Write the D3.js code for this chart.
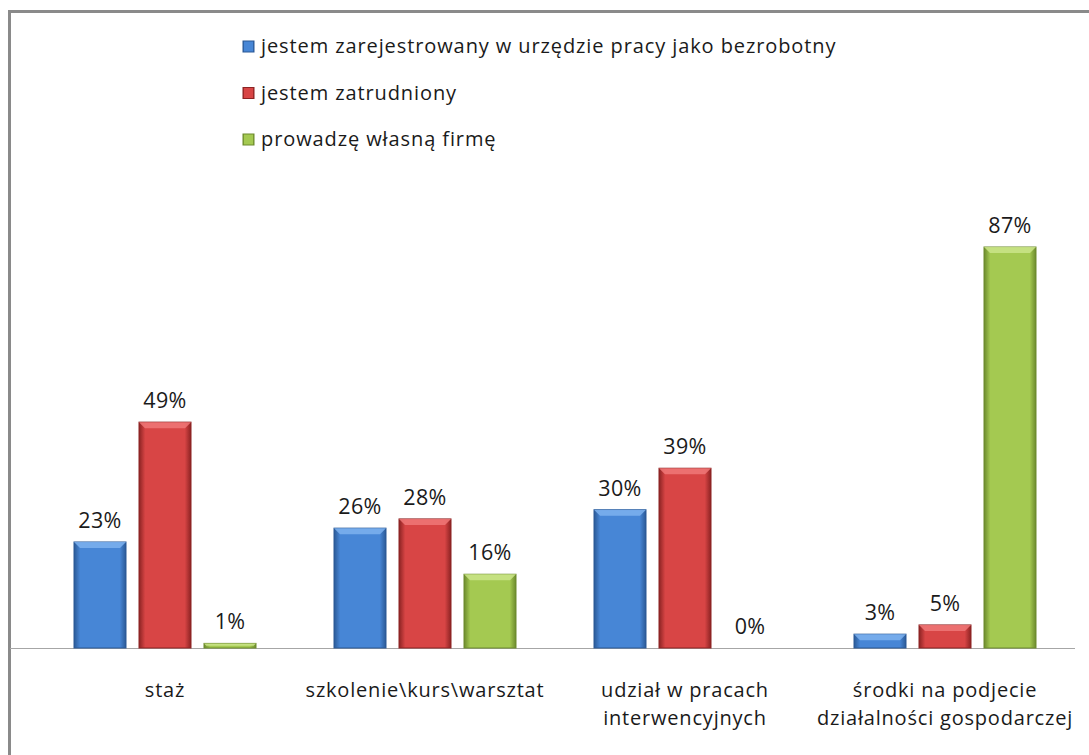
<!DOCTYPE html>
<html>
<head>
<meta charset="utf-8">
<title>Formy wsparcia</title>
<script src="https://cdn.jsdelivr.net/npm/d3@7/dist/d3.min.js"></script>
<style>
body { margin: 0; background: #fff; }
svg text { font-family: "Open Sans", sans-serif; fill: #1a1a1a; }
.val { font-size: 21.5px; letter-spacing: 0.3px; }
.cat { font-size: 20px; letter-spacing: 0.8px; }
.leg { font-size: 20px; letter-spacing: 0.9px; }
</style>
</head>
<body>
<script>

var categories = [["staż"], ["szkolenie\\kurs\\warsztat"], ["udział w pracach", "interwencyjnych"], ["środki na podjecie", "działalności gospodarczej"]];
var seriesNames = ["jestem zarejestrowany w urzędzie pracy jako bezrobotny", "jestem zatrudniony", "prowadzę własną firmę"];
var bezrobotny = [23, 26, 30, 3];
var zatrudniony = [49, 28, 39, 5];
var firma = [1, 16, 0, 87];

var colors = [
  {mid: "#4786d6", edge: "#2a5996", top: "#7eb2ef"},
  {mid: "#d84545", edge: "#8c2323", top: "#f07878"},
  {mid: "#a4c951", edge: "#6c8a2d", top: "#cbe58a"}
];

var W = 1089, H = 755;
var base = 648;

var svg = d3.select("body").append("svg")
  .attr("width", W)
  .attr("height", H);

var defs = svg.append("defs");
colors.forEach(function(c, i) {
  var g = defs.append("linearGradient").attr("id", "grad" + i)
    .attr("x1", 0).attr("x2", 1).attr("y1", 0).attr("y2", 0);
  g.append("stop").attr("offset", "0%").attr("stop-color", c.edge);
  g.append("stop").attr("offset", "12%").attr("stop-color", c.mid);
  g.append("stop").attr("offset", "88%").attr("stop-color", c.mid);
  g.append("stop").attr("offset", "100%").attr("stop-color", c.edge);
});

// frame
svg.append("rect")
  .attr("x", 9.5).attr("y", 11.5)
  .attr("width", 1090).attr("height", 760)
  .attr("fill", "#fff")
  .attr("stroke", "#8a8a8a")
  .attr("stroke-width", 3);

var x0 = d3.scaleBand()
  .domain(d3.range(categories.length))
  .range([35, 1075])
  .paddingInner(0)
  .paddingOuter(0);

var x1 = d3.scaleBand()
  .domain([0, 1, 2])
  .range([39, 221])
  .paddingInner(0.2);

var y = d3.scaleLinear()
  .domain([0, 87])
  .range([base, 247]);

var series = [bezrobotny, zatrudniony, firma];

// axis line
svg.append("line")
  .attr("x1", 10).attr("x2", 1075)
  .attr("y1", base + 0.5).attr("y2", base + 0.5)
  .attr("stroke", "#a6a6a6")
  .attr("stroke-width", 1);

series.forEach(function(vals, s) {
  var g = svg.append("g");
  vals.forEach(function(v, i) {
    var bx = x0(i) + x1(s);
    var bw = x1.bandwidth();
    var by = y(v);
    var bh = base - by;
    if (bh > 0) {
      g.append("rect")
        .attr("x", bx).attr("y", by)
        .attr("width", bw).attr("height", bh)
        .attr("fill", "url(#grad" + s + ")")
        .attr("stroke", colors[s].edge)
        .attr("stroke-width", 1);
      // top bevel
      var bev = Math.min(6, bh / 2);
      g.append("path")
        .attr("d", "M" + bx + "," + by + "L" + (bx + bw) + "," + by +
          "L" + (bx + bw - bev) + "," + (by + bev) + "L" + (bx + bev) + "," + (by + bev) + "Z")
        .attr("fill", colors[s].top)
        .attr("opacity", 0.85);
    }
    svg.append("text")
      .attr("class", "val")
      .attr("x", bx + bw / 2)
      .attr("y", by - 14)
      .attr("text-anchor", "middle")
      .text(v + "%");
  });
});

// category labels
categories.forEach(function(lines, i) {
  var t = svg.append("text")
    .attr("class", "cat")
    .attr("text-anchor", "middle")
    .attr("x", x0(i) + x0.bandwidth() / 2)
    .attr("y", 697);
  lines.forEach(function(l, k) {
    t.append("tspan")
      .attr("x", x0(i) + x0.bandwidth() / 2)
      .attr("dy", k === 0 ? 0 : 28)
      .text(l);
  });
});

// legend
var leg = svg.append("g");
seriesNames.forEach(function(n, i) {
  var ly = 47 + i * 46.5;
  leg.append("rect")
    .attr("x", 243).attr("y", ly - 6)
    .attr("width", 11).attr("height", 11)
    .attr("fill", "url(#grad" + i + ")")
    .attr("stroke", colors[i].edge);
  leg.append("text")
    .attr("class", "leg")
    .attr("x", 261).attr("y", ly + 6)
    .text(n);
});

</script>
</body>
</html>
